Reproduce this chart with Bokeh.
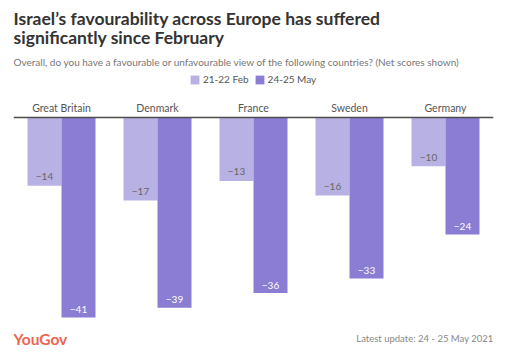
from bokeh.plotting import figure
from bokeh.models import ColumnDataSource, FactorRange, Range1d, Label, Legend, LegendItem, Span
from bokeh.transform import dodge
from bokeh.core.properties import value
from bokeh.embed import file_html
from bokeh.resources import INLINE

countries = ["Great Britain", "Denmark", "France", "Sweden", "Germany"]
feb = [-14, -17, -13, -16, -10]
may = [-41, -39, -36, -33, -24]
series_names = ["21-22 Feb", "24-25 May"]

FEB_C = "#b8b2e4"
MAY_C = "#8a7dd3"
FONT = "Lato"

def fmt(v):
    return ("\u2212" + str(abs(v))) if v < 0 else str(v)

src = ColumnDataSource(dict(
    country=countries, feb=feb, may=may,
    feb_lbl=[fmt(v) for v in feb], may_lbl=[fmt(v) for v in may],
    zero=[0] * len(countries),
))

W, H = 510, 355
PX = 200 / 41.0          # pixels per unit
ZERO_FROM_TOP = 117      # zero line position in canvas pixels
y_top = ZERO_FROM_TOP / PX
y_bot = -(H - ZERO_FROM_TOP) / PX

p = figure(width=W, height=H, x_range=FactorRange(*countries, range_padding=0),
           y_range=Range1d(y_bot, y_top),
           output_backend="svg", toolbar_location=None,
           min_border_left=13, min_border_right=17, min_border_top=0, min_border_bottom=0)
p.outline_line_color = None
p.background_fill_color = "white"
p.border_fill_color = "white"
p.grid.visible = False
p.xaxis.visible = False
p.yaxis.visible = False

bw = 34 / 96
r1 = p.vbar(x=dodge("country", -bw / 2, range=p.x_range), top=0, bottom="feb", width=bw,
            source=src, fill_color=FEB_C, line_color=None)
r2 = p.vbar(x=dodge("country", bw / 2, range=p.x_range), top=0, bottom="may", width=bw,
            source=src, fill_color=MAY_C, line_color=None)

p.add_layout(Span(location=0, dimension="width", line_color="#4d4d4d", line_width=1.5))

# category labels above the zero line
p.text(x="country", y="zero", text="country", source=src, text_align="center",
       text_baseline="middle", y_offset=-9.5, text_font=value(FONT), text_font_size="10.5px",
       text_color="#555555")

p.text(x=dodge("country", -bw / 2, range=p.x_range), y="feb", text="feb_lbl", source=src,
       text_align="center", text_baseline="middle", y_offset=-9,
       text_font=value(FONT), text_font_size="10px", text_color="#666666")
p.text(x=dodge("country", bw / 2, range=p.x_range), y="may", text="may_lbl", source=src,
       text_align="center", text_baseline="middle", y_offset=-8,
       text_font=value(FONT), text_font_size="10px", text_color="#ffffff")

def lab(text, x, y, size, color="#333333", style="normal", align="left"):
    # x: pixels from the frame's left edge (page x 13); y: pixels from the canvas bottom
    p.add_layout(Label(x=x, y=y, x_units="screen", y_units="screen", text=text,
                       text_font=FONT, text_font_size=size, text_color=color,
                       text_font_style=style, text_align=align, text_baseline="alphabetic"))

lab("Israel\u2019s favourability across Europe has suffered", 0, H - 18, "17.5px", "#333333", "bold")
lab("significantly since February", 0, H - 37, "17.5px", "#333333", "bold")
lab("Overall, do you have a favourable or unfavourable view of the following countries? (Net scores shown)",
    0, H - 61.5, "10px", "#777777")
lab("YouGov", 0, H - 338, "15.5px", "#f0634f", "bold")
lab("Latest update: 24 - 25 May 2021", 480, H - 337.5, "9.5px", "#888888", align="right")

legend = Legend(items=[LegendItem(label=series_names[0], renderers=[r1]),
                       LegendItem(label=series_names[1], renderers=[r2])],
                orientation="horizontal", location=(176, H - 85), border_line_alpha=0,
                background_fill_alpha=0, label_text_font=FONT, label_text_font_size="10px",
                label_text_color="#555555", glyph_width=11, glyph_height=11, spacing=5,
                label_standoff=3, padding=0, margin=0, label_height=11)
p.add_layout(legend, "center")

out = file_html(p, INLINE)
open("out.html", "w").write(out)
